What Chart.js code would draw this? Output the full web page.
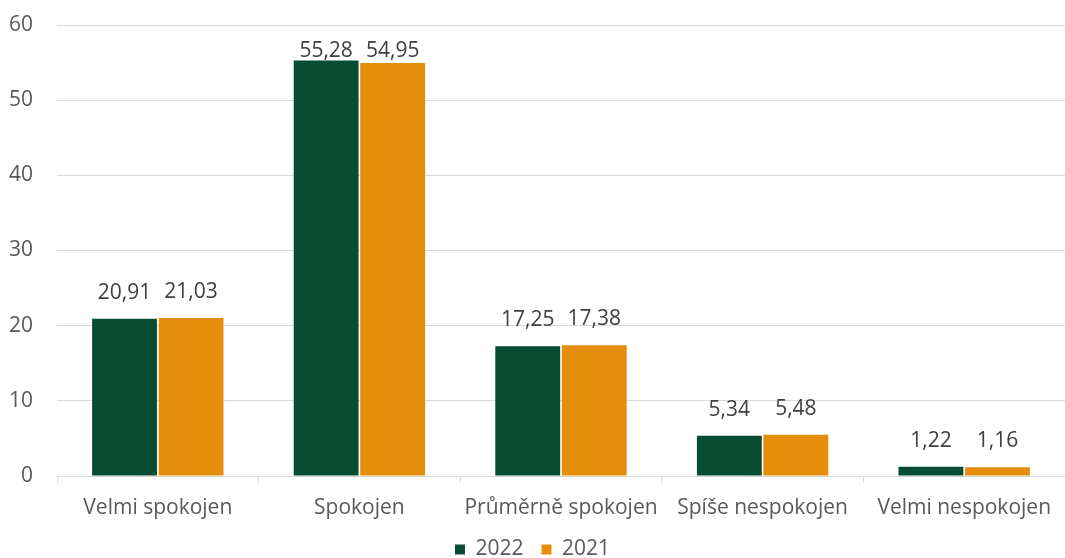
<!DOCTYPE html>
<html>
<head>
<meta charset="utf-8">
<script src="https://cdn.jsdelivr.net/npm/chart.js@4.4.1/dist/chart.umd.min.js"></script>
<style>
  html, body { margin: 0; padding: 0; background: #fff; }
  #wrap { width: 1065px; height: 558px; }
</style>
</head>
<body>
<div id="wrap"><canvas id="chart" width="1065" height="558"></canvas></div>
<script>
// hodnoty
const categories = ['Velmi spokojen', 'Spokojen', 'Průměrně spokojen', 'Spíše nespokojen', 'Velmi nespokojen'];
const values2022 = [20.91, 55.28, 17.25, 5.34, 1.22];
const values2021 = [21.03, 54.95, 17.38, 5.48, 1.16];
const yTicks = [0, 10, 20, 30, 40, 50, 60];

const FONT = '"Open Sans", sans-serif';
const GREY = '#595959';

// popisky hodnot nad sloupci (česká desetinná čárka), u horního okraje se drží uvnitř grafu
const valueLabels = {
  id: 'valueLabels',
  afterDatasetsDraw(chart) {
    const ctx = chart.ctx;
    const minY = chart.chartArea.top + 32;
    ctx.save();
    ctx.font = '21px ' + FONT;
    ctx.fillStyle = '#404040';
    ctx.textAlign = 'center';
    ctx.textBaseline = 'alphabetic';
    chart.data.datasets.forEach((ds, i) => {
      chart.getDatasetMeta(i).data.forEach((bar, j) => {
        ctx.fillText(ds.data[j].toFixed(2).replace('.', ','), bar.x, Math.max(bar.y - 20, minY));
      });
    });
    ctx.restore();
  }
};

new Chart(document.getElementById('chart').getContext('2d'), {
  type: 'bar',
  data: {
    labels: categories,
    datasets: [
      { label: '2022', data: values2022, backgroundColor: '#074C33' },
      { label: '2021', data: values2021, backgroundColor: '#E48E0B' }
    ]
  },
  options: {
    responsive: false,
    animation: false,
    datasets: { bar: { categoryPercentage: 0.66, barPercentage: 0.975 } },
    layout: { padding: { top: 25, right: 0, left: 0, bottom: -12 } },
    scales: {
      x: {
        grid: { offset: true, drawOnChartArea: false, drawTicks: true, tickLength: 7, color: '#d9d9d9' },
        border: { color: '#d9d9d9' },
        ticks: { color: GREY, font: { family: FONT, size: 21 }, padding: 12 },
        afterFit: s => { s.height = 45; }
      },
      y: {
        min: 0, max: 60,
        afterBuildTicks: s => { s.ticks = yTicks.map(v => ({ value: v })); },
        afterFit: s => { s.width = 57; s.paddingTop = 0; s.paddingBottom = 0; },
        grid: { color: '#d9d9d9', drawTicks: false },
        border: { display: false },
        ticks: { color: GREY, font: { family: FONT, size: 21 }, padding: 24 }
      }
    },
    plugins: {
      legend: {
        position: 'bottom',
        labels: { color: GREY, font: { family: FONT, size: 21 }, boxWidth: 10, boxHeight: 10, padding: 18 }
      },
      tooltip: { enabled: false }
    }
  },
  plugins: [valueLabels]
});
</script>
</body>
</html>
